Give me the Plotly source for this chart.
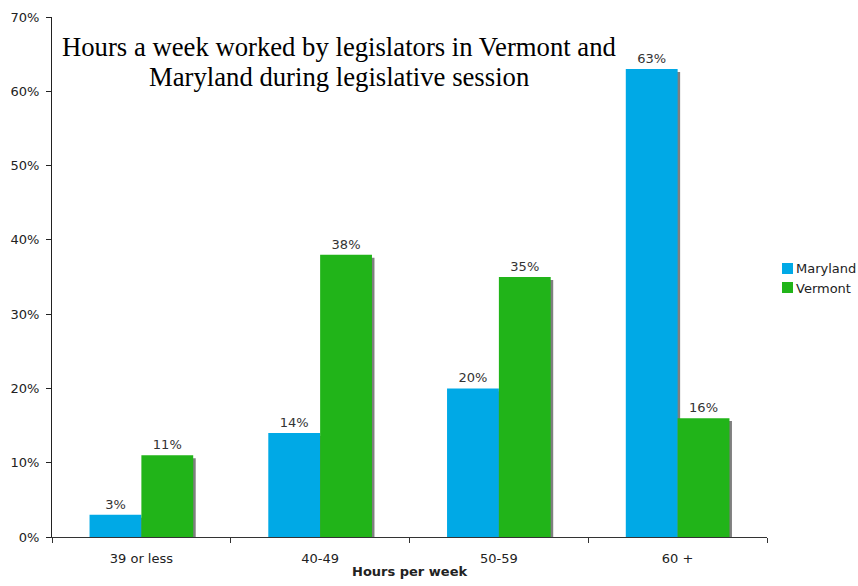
import plotly.graph_objects as go

categories = ["39 or less", "40-49", "50-59", "60 +"]
maryland = [3, 14, 20, 63]
vermont = [11, 38, 35, 16]
series_names = ["Maryland", "Vermont"]
y_ticks = [0, 10, 20, 30, 40, 50, 60, 70]
y_ticklabels = [f"{v}%" for v in y_ticks]
title_lines = ["Hours a week worked by legislators in Vermont and",
               "Maryland during legislative session"]
x_title = "Hours per week"

BLUE = "#00A9E6"
GREEN = "#21B419"
SHADOW = "#7F7F7F"
FONT = "DejaVu Sans, Verdana, sans-serif"
SERIF = "Liberation Serif, Times New Roman, serif"

W = 0.29
SX = 0.014   # shadow offset (category units)
SY = 0.4     # shadow drop (value units)

fig = go.Figure()

# shadows
for vals, off in [(maryland, -W), (vermont, 0)]:
    fig.add_trace(go.Bar(
        x=categories, y=[v - SY for v in vals], base=0,
        width=W, offset=off + SX, marker=dict(color=SHADOW, line=dict(width=0)),
        showlegend=False, hoverinfo="skip"))

for name, vals, off, col in [(series_names[0], maryland, -W, BLUE),
                             (series_names[1], vermont, 0, GREEN)]:
    fig.add_trace(go.Bar(
        x=categories, y=vals, name=name, width=W, offset=off,
        marker=dict(color=col, line=dict(width=0)),
        text=[f"{v}%" for v in vals], textposition="outside",
        textfont=dict(family=FONT, size=13, color="#333333"),
        cliponaxis=False, showlegend=False))

fig.update_layout(
    width=858, height=586,
    margin=dict(l=52, r=91, t=17, b=49),
    barmode="overlay",
    plot_bgcolor="white", paper_bgcolor="white",
    font=dict(family=FONT, size=13, color="#222222"),
    xaxis=dict(type="category", tickson="boundaries", ticks="outside", ticklen=5,
               tickcolor="#333333", showline=True, linecolor="#333333", linewidth=1,
               showgrid=False, range=[-0.5, 3.5], automargin=False,
               ticklabelstandoff=9,
               tickfont=dict(family=FONT, size=13, color="#222222")),
    yaxis=dict(range=[0, 70], tickvals=y_ticks, ticktext=y_ticklabels,
               ticks="outside", ticklen=5, tickcolor="#222222",
               showline=True, linecolor="#222222", linewidth=1, showgrid=False,
               zeroline=False, automargin=False, ticklabelstandoff=4,
               tickfont=dict(family=FONT, size=13, color="#222222")),
)

fig.add_annotation(
    text=f"<b>{x_title}</b>", xref="paper", yref="paper", x=0.5, y=-0.0673,
    xanchor="center", yanchor="middle", showarrow=False,
    font=dict(family=FONT, size=13, color="#222222"))

for line, yv in zip(title_lines, [0.942, 0.885]):
    fig.add_annotation(
        text=line, xref="paper", yref="paper", x=0.402, y=yv,
        xanchor="center", yanchor="middle", showarrow=False,
        font=dict(family=SERIF, size=26.7, color="#000000"))

# legend
legend_rows = [(0.5058, 0.5269, 0.5154), (0.4692, 0.4904, 0.4779)]
for (name, col), (yb, yt, yc) in zip([(series_names[0], BLUE), (series_names[1], GREEN)],
                                     legend_rows):
    fig.add_shape(type="rect", xref="paper", yref="paper",
                  x0=1.0210, x1=1.0364, y0=yb, y1=yt,
                  fillcolor=col, line=dict(width=0))
    fig.add_annotation(text=name, xref="paper", yref="paper",
                       x=1.0378, y=yc, xanchor="left", yanchor="middle",
                       showarrow=False,
                       font=dict(family=FONT, size=13, color="#222222"))

fig.write_html("out.html", config={"displayModeBar": False},
               post_script="document.body.style.margin='0';")
